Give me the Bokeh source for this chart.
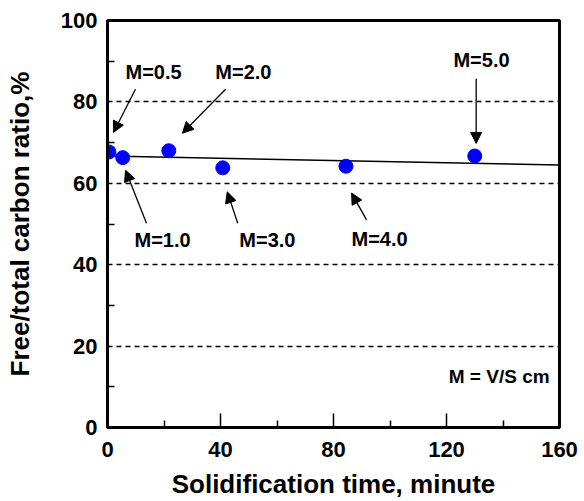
from bokeh.plotting import figure
from bokeh.models import FixedTicker, Range1d, Arrow, NormalHead, ColumnDataSource, Label
from bokeh.core.properties import value
from bokeh.embed import file_html
from bokeh.resources import INLINE

# data
time_min = [0.5, 5.4, 21.7, 40.8, 84.4, 130.0]
ratio = [67.7, 66.3, 68.0, 63.8, 64.2, 66.7]
m_labels = ["M=0.5", "M=1.0", "M=2.0", "M=3.0", "M=4.0", "M=5.0"]
label_x = [16.3, 19.5, 48.1, 56.6, 96.3, 132.4]
label_y = [87.3, 46.1, 87.3, 46.1, 46.3, 90.2]
arrow_x0 = [9.9, 13.8, 41.8, 46.1, 91.7, 130.5]
arrow_y0 = [83.1, 50.2, 83.1, 50.2, 51.0, 85.7]
arrow_x1 = [2.1, 6.4, 26.5, 42.4, 86.4, 130.5]
arrow_y1 = [72.5, 63.2, 72.3, 57.9, 57.6, 69.8]
fit_x = [0, 160]
fit_y = [66.7, 64.5]
x_ticks = [0, 40, 80, 120, 160]
x_minor = [20, 60, 100, 140]
y_ticks = [0, 20, 40, 60, 80, 100]
y_minor = [10, 30, 50, 70, 90]
grid_levels = [20, 40, 60, 80]

FONT = "Liberation Sans"

p = figure(width=584, height=501, output_backend="svg", toolbar_location=None,
           x_range=Range1d(0, 160), y_range=Range1d(0, 100),
           min_border_left=107, min_border_right=25, min_border_top=20, min_border_bottom=73)
p.background_fill_color = "white"
p.border_fill_color = "white"
p.outline_line_color = "black"
p.outline_line_width = 3

for ax, ticks, minor in ((p.xaxis[0], x_ticks, x_minor), (p.yaxis[0], y_ticks, y_minor)):
    ax.ticker = FixedTicker(ticks=ticks, minor_ticks=minor)
    ax.axis_line_width = 3
    ax.axis_line_color = "black"
    ax.major_tick_out = 0
    ax.minor_tick_out = 0
    ax.major_tick_line_width = 1.5
    ax.minor_tick_line_width = 1.5
    ax.major_label_text_font = FONT
    ax.major_label_text_font_style = "bold"
    ax.major_label_text_font_size = "22px"
    ax.major_label_text_color = "black"
    ax.axis_label_text_font = FONT
    ax.axis_label_text_font_style = "bold"
    ax.axis_label_text_font_size = "26px"
    ax.axis_label_text_color = "black"

p.xaxis.major_tick_in = 14
p.xaxis.minor_tick_in = 7
p.yaxis.major_tick_in = 0
p.yaxis.minor_tick_in = 7
p.xaxis.major_label_standoff = 14
p.yaxis.major_label_standoff = 10
p.xaxis.axis_label = "Solidification time, minute"
p.yaxis.axis_label = "Free/total carbon ratio,%"
p.xaxis.axis_label_standoff = 9
p.yaxis.axis_label_standoff = 23

p.xgrid.visible = False
p.ygrid.ticker = FixedTicker(ticks=grid_levels)
p.ygrid.grid_line_color = "black"
p.ygrid.grid_line_dash = "5 4"
p.ygrid.grid_line_width = 1.5

p.line(fit_x, fit_y, line_color="black", line_width=1.5)
p.scatter(time_min, ratio, size=14, fill_color="#0000ff", line_color="#0000ff")

for x0, y0, x1, y1 in zip(arrow_x0, arrow_y0, arrow_x1, arrow_y1):
    p.add_layout(Arrow(end=NormalHead(size=11, fill_color="black", line_color="black"),
                       x_start=x0, y_start=y0, x_end=x1, y_end=y1,
                       line_color="black", line_width=1.3))

src = ColumnDataSource(dict(x=label_x, y=label_y, t=m_labels))
p.text("x", "y", text="t", source=src, text_font=value(FONT), text_font_style="bold",
       text_font_size="20px", text_align="center", text_baseline="middle", text_color="black")

p.add_layout(Label(x=156.5, y=12.6, text="M = V/S cm", text_font=FONT, text_font_style="bold",
                   text_font_size="19px", text_align="right", text_baseline="middle",
                   text_color="black"))

open("out.html", "w").write(file_html(p, INLINE))
